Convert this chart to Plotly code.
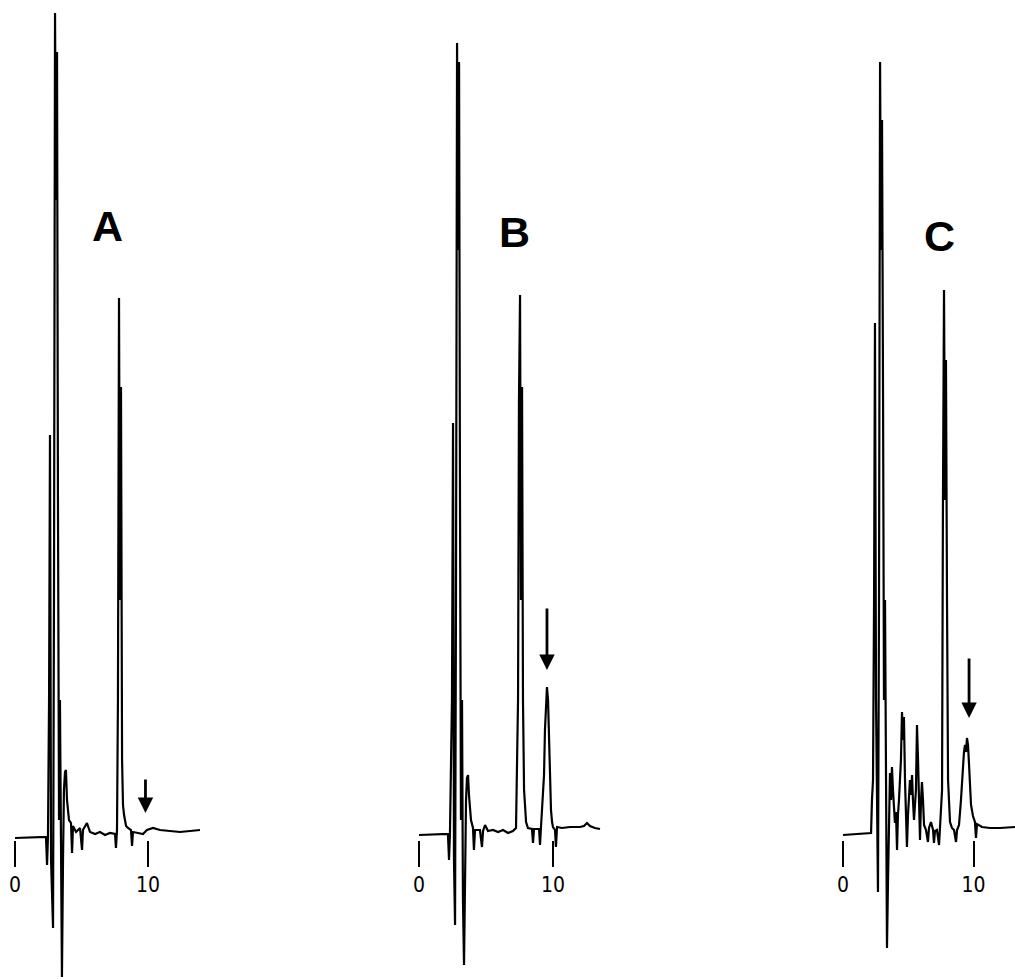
import plotly.graph_objects as go

# ---------------- data (retention time in min, detector signal in arbitrary units) ----------------
time_a = [0, 2.33, 2.41, 2.48, 2.56, 2.63, 2.71, 2.86, 2.93, 3.01, 3.08, 3.16, 3.23, 3.31, 3.38, 3.46,
          3.53, 3.61, 3.68, 3.76, 3.83, 3.91, 3.98, 4.06, 4.21, 4.29, 4.36, 4.59, 4.89, 5.04, 5.11,
          5.41, 5.64, 6.02, 6.39, 6.77, 7.14, 7.52, 7.59, 7.67, 7.74, 7.82, 7.89, 7.97, 8.05, 8.12,
          8.20, 8.35, 8.50, 8.72, 8.80, 8.87, 9.25, 9.62, 9.92, 10.38, 10.90, 11.65, 12.41, 13.16, 13.91]
signal_a = [0, 1, -27, 2, 138, 403, -22, -90, 238, 825, 638, 786, 338, 18, 138, -62,
            -139, -22, 48, 66, 68, 38, 26, 18, 15, -15, 12, 6, 10, -12, 8,
            15, 6, 4, 6, 3, 5, 4, -10, 8, 138, 540, 238, 451, 78, 33,
            23, 12, 10, 8, -8, 6, 5, 4, 8, 10, 8, 7, 6, 7, 8]

time_b = [0, 2.16, 2.24, 2.31, 2.46, 2.54, 2.61, 2.69, 2.76, 2.84, 2.91, 2.99, 3.06, 3.13, 3.21, 3.28,
          3.36, 3.43, 3.51, 3.58, 3.66, 3.73, 3.81, 3.88, 4.03, 4.10, 4.18, 4.55, 4.70, 4.78, 4.93,
          5.15, 5.52, 5.90, 6.27, 6.64, 7.01, 7.24, 7.39, 7.46, 7.54, 7.61, 7.69, 7.76, 7.84, 7.99,
          8.13, 8.43, 8.51, 8.58, 8.96, 9.03, 9.10, 9.25, 9.33, 9.40, 9.48, 9.55, 9.63, 9.70, 9.78,
          9.85, 9.93, 10.00, 10.15, 10.22, 10.30, 10.67, 11.27, 12.01, 12.31, 12.54, 12.76, 13.13, 13.51]
signal_b = [3, 4, -22, 4, 138, 415, -22, -87, 238, 795, 588, 776, 338, 18, 138, -62,
            -127, -22, 38, 60, 63, 43, 28, 18, 10, -12, 8, 8, -9, 7, 13,
            7, 8, 6, 8, 5, 7, 10, 138, 438, 543, 238, 451, 138, 48, 16,
            10, 9, -5, 9, 9, -7, 10, 38, 63, 108, 143, 151, 138, 98, 58,
            28, 16, 11, 8, -9, 11, 10, 11, 11, 12, 15, 12, 10, 9]

time_c = [0, 2.07, 2.15, 2.22, 2.30, 2.38, 2.45, 2.53, 2.68, 2.76, 2.84, 2.91, 2.99, 3.07, 3.14, 3.22,
          3.30, 3.37, 3.45, 3.52, 3.60, 3.68, 3.75, 3.83, 3.91, 3.98, 4.06, 4.14, 4.21, 4.29, 4.44,
          4.52, 4.60, 4.67, 4.75, 4.83, 4.90, 4.98, 5.13, 5.21, 5.29, 5.36, 5.44, 5.59, 5.67, 5.75,
          5.82, 5.90, 5.98, 6.05, 6.13, 6.21, 6.36, 6.51, 6.59, 6.74, 6.90, 6.97, 7.05, 7.20, 7.36,
          7.43, 7.59, 7.66, 7.74, 7.82, 7.89, 7.97, 8.05, 8.20, 8.35, 8.51, 8.66, 8.74, 8.89, 9.04,
          9.20, 9.27, 9.35, 9.43, 9.50, 9.58, 9.66, 9.73, 9.81, 9.96, 10.11, 10.19, 10.27, 10.65,
          11.26, 12.03, 12.80, 13.18]
signal_c = [3, 5, 5, 38, 58, 238, 515, 138, -54, 238, 776, 588, 718, 438, 138, 238,
            -12, -110, -42, 38, 65, 38, 71, 48, 23, 15, 26, -12, 23, 38, 78,
            126, 98, 121, 58, 25, -9, 23, 58, 43, 63, 38, 18, 48, 113, 78,
            43, -2, 38, 56, 38, 13, 8, -4, 10, 16, 8, -5, 7, 8, -7,
            9, 48, 338, 548, 338, 478, 238, 58, 16, 10, 8, -4, 8, 13, 38,
            76, 86, 93, 86, 100, 93, 73, 48, 33, 22, 16, 0, 14, 11,
            10, 10, 11, 11]

panel_labels = ["A", "B", "C"]
tick_values = [0, 10]
tick_labels = ["0", "10"]
marked_time = [9.81, 9.55, 9.66]      # arrow positions (min)
marked_signal = [25, 168, 120]        # arrow tip level

# ---------------- layout geometry ----------------
W, H = 1015, 979
zero_px = [15, 419, 843]          # pixel position of t = 0 in each panel
px_per_min = [13.3, 13.4, 13.05]
t_start = -1.0
t_end = [14.0, 14.0, (W - 843) / 13.05]
arrow_len = [35, 63, 61]
label_pos_t = [6.92, 7.16, 7.43]
label_pos_s = [612, 606, 602]

fig = go.Figure()
series = [(time_a, signal_a), (time_b, signal_b), (time_c, signal_c)]
axis_names = ["x", "x2", "x3"]
for i, (t, s) in enumerate(series):
    fig.add_trace(go.Scatter(x=t, y=s, mode="lines", xaxis=axis_names[i], yaxis="y",
                             line=dict(color="black", width=2.2), showlegend=False,
                             hoverinfo="skip"))

axis_pos = 1 - 840 / H
for i in range(3):
    d0 = (zero_px[i] + t_start * px_per_min[i]) / W
    d1 = min(1.0, (zero_px[i] + t_end[i] * px_per_min[i]) / W)
    key = "xaxis" if i == 0 else f"xaxis{i+1}"
    fig.layout[key] = dict(domain=[max(0, d0), d1], range=[t_start, t_end[i]], anchor="free",
                           position=axis_pos, showgrid=False, zeroline=False, showline=False,
                           ticks="outside", ticklen=26, tickwidth=2, tickcolor="black",
                           tickvals=tick_values, ticktext=tick_labels,
                           tickfont=dict(family="DejaVu Sans Condensed", size=21, color="black"),
                           fixedrange=True)
    fig.add_annotation(x=label_pos_t[i], y=label_pos_s[i], xref=axis_names[i], yref="y",
                       text=f"<b>{panel_labels[i]}</b>", showarrow=False,
                       font=dict(family="Liberation Sans, Arial", size=43, color="black"))
    fig.add_annotation(x=marked_time[i], y=marked_signal[i], xref=axis_names[i], yref="y",
                       text="", showarrow=True, ax=0, ay=-arrow_len[i],
                       arrowhead=2, arrowsize=1.1, arrowwidth=2.8, arrowcolor="black")

fig.update_layout(
    width=W, height=H, margin=dict(l=0, r=0, t=0, b=0),
    paper_bgcolor="white", plot_bgcolor="white",
    yaxis=dict(domain=[0, 1], range=[-(H - 838), 838], visible=False, fixedrange=True),
    showlegend=False,
)

fig.write_html("out.html")
